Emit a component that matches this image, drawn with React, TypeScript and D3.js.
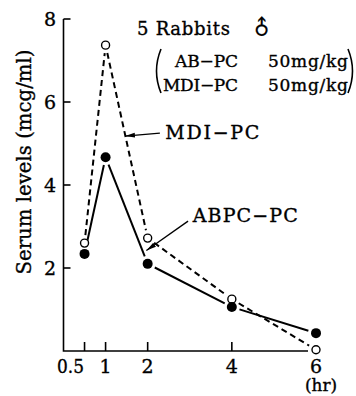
import { useEffect, useRef } from "react"
import * as d3 from "d3"

// hours after dosing
const hours = [0.5, 1, 2, 4, 6]
// serum levels (mcg/ml)
const mdiPC = [2.6, 7.37, 2.72, 1.25, 0.03]
const abpcPC = [2.34, 4.67, 2.1, 1.06, 0.43]
const yTicks = [2, 4, 6, 8]
const xTickLabels = ["0.5", "1", "2", "4", "6"]

const FONT = "'DejaVu Serif', 'Liberation Serif', serif"

export default function App() {
  const svgRef = useRef<SVGSVGElement>(null)

  useEffect(() => {
    if (!svgRef.current) return
    const svg = d3.select(svgRef.current)
    svg.selectAll("*").remove()

    const x = d3.scaleLinear().domain([0, 6]).range([63.5, 316])
    const y = d3.scaleLinear().domain([0, 8]).range([351, 19])

    const defs = svg.append("defs")
    defs
      .append("marker")
      .attr("id", "arr")
      .attr("viewBox", "0 0 10 6")
      .attr("refX", 10)
      .attr("refY", 3)
      .attr("markerWidth", 10)
      .attr("markerHeight", 6)
      .attr("markerUnits", "userSpaceOnUse")
      .attr("orient", "auto")
      .append("path")
      .attr("d", "M0,0.6 L10,3 L0,5.4 Z")
      .attr("fill", "#000")

    // Ejes
    const axis = svg.append("g").attr("stroke", "#000").attr("stroke-width", 1.6).attr("fill", "none")
    axis
      .append("path")
      .attr("d", `M${x(0)},${y(8)} L${x(0)},${y(0)} L${x(6) - 8},${y(0)}`)
    yTicks.forEach((t) => {
      axis.append("line").attr("x1", x(0)).attr("x2", x(0) + 7).attr("y1", y(t)).attr("y2", y(t))
    })
    hours.slice(0, 4).forEach((h) => {
      axis.append("line").attr("x1", x(h)).attr("x2", x(h)).attr("y1", y(0)).attr("y2", y(0) - 9)
    })

    const txt = svg
      .append("g")
      .attr("font-family", FONT)
      .attr("fill", "#000")
      .attr("stroke", "#000")
      .attr("stroke-width", 0.35)

    yTicks.forEach((t) => {
      txt
        .append("text")
        .attr("x", 56)
        .attr("y", y(t) + 7)
        .attr("text-anchor", "end")
        .attr("font-size", 19)
        .text(t)
    })

    xTickLabels.forEach((l, i) => {
      const t = txt
        .append("text")
        .attr("x", i === 0 ? 57 : x(hours[i]))
        .attr("y", 373)
        .attr("text-anchor", i === 0 ? "start" : "middle")
        .attr("font-size", 19)
        .text(l)
      if (i === 0) t.attr("textLength", 27).attr("lengthAdjust", "spacingAndGlyphs")
    })

    txt
      .append("text")
      .attr("x", 321)
      .attr("y", 391)
      .attr("text-anchor", "middle")
      .attr("font-size", 16)
      .attr("textLength", 32)
      .attr("lengthAdjust", "spacingAndGlyphs")
      .text("(hr)")

    txt
      .append("text")
      .attr("transform", "translate(31,162) rotate(-90)")
      .attr("text-anchor", "middle")
      .attr("font-size", 21)
      .attr("textLength", 225)
      .attr("lengthAdjust", "spacingAndGlyphs")
      .text("Serum levels (mcg/ml)")

    // Titulo
    txt
      .append("text")
      .attr("x", 137)
      .attr("y", 35)
      .attr("font-size", 18)
      .attr("textLength", 93)
      .attr("lengthAdjust", "spacing")
      .text("5 Rabbits")
    txt
      .append("text")
      .attr("transform", "translate(262,28) rotate(-45)")
      .attr("text-anchor", "middle")
      .attr("dominant-baseline", "central")
      .attr("font-size", 21)
      .attr("stroke-width", 0.2)
      .text("♂")

    const doses = [
      { name: "AB−PC", start: 175, base: 67 },
      { name: "MDI−PC", start: 163, base: 91 },
    ]
    doses.forEach((d) => {
      txt
        .append("text")
        .attr("x", d.start)
        .attr("y", d.base)
        .attr("font-size", 17)
        .attr("textLength", 238 - d.start)
        .attr("lengthAdjust", "spacing")
        .text(d.name)
      txt
        .append("text")
        .attr("x", 268)
        .attr("y", d.base)
        .attr("font-size", 17)
        .attr("textLength", 80)
        .attr("lengthAdjust", "spacing")
        .text("50mg/kg")
    })
    const paren = svg.append("g").attr("stroke", "#000").attr("fill", "none").attr("stroke-width", 1.6)
    paren.append("path").attr("d", "M161,49 Q152,71 161,93")
    paren.append("path").attr("d", "M348,49 Q357,71 348,93")

    // Lineas con hueco junto a los marcadores
    const drawSeries = (vals: number[], dash: string | null, gap: number) => {
      const pts = hours.map((h, i) => [x(h), y(vals[i])])
      for (let i = 0; i < pts.length - 1; i++) {
        const [x1, y1] = pts[i]
        const [x2, y2] = pts[i + 1]
        const len = Math.hypot(x2 - x1, y2 - y1)
        const ux = (x2 - x1) / len
        const uy = (y2 - y1) / len
        const l = svg
          .append("line")
          .attr("x1", x1 + ux * gap)
          .attr("y1", y1 + uy * gap)
          .attr("x2", x2 - ux * gap)
          .attr("y2", y2 - uy * gap)
          .attr("stroke", "#000")
          .attr("stroke-width", 2)
        if (dash) l.attr("stroke-dasharray", dash)
      }
    }
    drawSeries(mdiPC, "6,4", 8)
    drawSeries(abpcPC, null, 8)

    svg
      .selectAll(".open")
      .data(hours)
      .enter()
      .append("circle")
      .attr("class", "open")
      .attr("cx", (d) => x(d))
      .attr("cy", (d, i) => y(mdiPC[i]))
      .attr("r", 4)
      .attr("fill", "#fff")
      .attr("stroke", "#000")
      .attr("stroke-width", 1.4)

    svg
      .selectAll(".filled")
      .data(hours)
      .enter()
      .append("circle")
      .attr("class", "filled")
      .attr("cx", (d) => x(d))
      .attr("cy", (d, i) => y(abpcPC[i]))
      .attr("r", 5)
      .attr("fill", "#000")

    // Anotaciones (en unidades de datos)
    const notes = [
      { label: "MDI−PC", tx: 2.42, ty: 5.1, len: 94, from: [2.29, 5.25], to: [1.46, 5.18] },
      { label: "ABPC−PC", tx: 3.07, ty: 3.11, len: 105, from: [2.96, 3.13], to: [1.97, 2.42] },
    ]
    notes.forEach((n) => {
      svg
        .append("line")
        .attr("x1", x(n.from[0]))
        .attr("y1", y(n.from[1]))
        .attr("x2", x(n.to[0]))
        .attr("y2", y(n.to[1]))
        .attr("stroke", "#000")
        .attr("stroke-width", 1.3)
        .attr("marker-end", "url(#arr)")
      txt
        .append("text")
        .attr("x", x(n.tx))
        .attr("y", y(n.ty))
        .attr("font-size", 19)
        .attr("textLength", n.len)
        .attr("lengthAdjust", "spacing")
        .text(n.label)
    })
  }, [])

  return (
    <svg
      ref={svgRef}
      width={356}
      height={396}
      style={{ position: "absolute", left: 0, top: 0, background: "#fff" }}
    />
  )
}
